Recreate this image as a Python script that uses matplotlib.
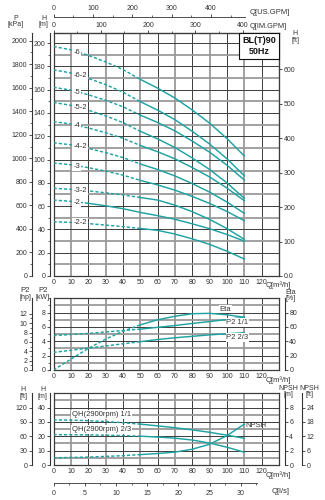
import matplotlib
matplotlib.use("Agg")
import matplotlib.pyplot as plt
import matplotlib.patches as patches
import numpy as np
from matplotlib.ticker import MultipleLocator, FixedLocator, FuncFormatter

W, H = 325, 500
TEAL = "#1fa2a2"
INK = "#333333"
DARK = "#3c3c3c"
LIGHT = "#9a9a9a"

plt.rcParams["font.family"] = ["Liberation Sans", "DejaVu Sans"]
plt.rcParams["font.size"] = 5

# ---- data ----
Q = [0, 10, 20, 30, 40, 50, 60, 70, 80, 90, 100, 110]

stage_names = ["-6", "-6-2", "-5", "-5-2", "-4", "-4-2", "-3", "-3-2", "-2", "-2-2"]
h_6   = [197, 194.2, 189.5, 183.8, 177.3, 168.8, 161.3, 152.8, 142.5, 131.2, 118, 103]
h_6_2 = [177, 174.3, 169.7, 164.3, 157.9, 149.7, 142.4, 134.2, 124.2, 113.3, 100.6, 86]
h_5   = [162, 159.6, 155.6, 150.9, 145.3, 138.1, 131.8, 124.6, 115.8, 106.3, 95.1, 82.4]
h_5_2 = [149, 146.5, 142.4, 137.5, 131.7, 124.3, 117.7, 110.3, 101.3, 91.4, 79.9, 66.7]
h_4   = [132.5, 130.5, 127.1, 123, 118.2, 112.1, 106.7, 100.6, 93.1, 85, 75.5, 64.6]
h_4_2 = [114.4, 112.6, 109.6, 105.9, 101.7, 96.2, 91.4, 85.9, 79.3, 72, 63.5, 53.8]
h_3   = [97, 95.5, 93, 90.1, 86.6, 82.1, 78.2, 73.7, 68.3, 62.3, 55.4, 47.5]
h_3_2 = [75.3, 74.4, 73.1, 71.4, 69.6, 67.4, 65.2, 60.8, 55.2, 48.6, 40.7, 31.5]
h_2   = [65.2, 64.1, 62.4, 60.3, 57.8, 54.6, 51.8, 48.7, 44.8, 40.6, 35.6, 30]
h_2_2 = [46.6, 46, 45, 43.7, 42.4, 40.8, 39.2, 36, 31.9, 27.1, 21.3, 14.6]
stage_heads = [h_6, h_6_2, h_5, h_5_2, h_4, h_4_2, h_3, h_3_2, h_2, h_2_2]

p2_full = [4.8, 4.95, 5.1, 5.3, 5.5, 5.7, 5.95, 6.2, 6.5, 6.75, 7.05, 7.35]
p2_trim = [2.45, 2.75, 3.05, 3.35, 3.65, 3.95, 4.25, 4.5, 4.7, 4.9, 5.05, 5.2]
eta = [0, 15, 30, 43, 54, 63, 70, 75, 78.5, 79, 77, 73.5]

qh_full = [31.5, 31.3, 30.9, 30.3, 29.5, 28.5, 27.3, 26, 24.5, 22.8, 20.8, 18.6]
qh_trim = [21.2, 21.1, 21, 20.8, 20.5, 20.1, 19.5, 18.7, 17.4, 15.3, 12.4, 8.9]
npsh = [1.0, 1.05, 1.1, 1.2, 1.3, 1.45, 1.6, 1.8, 2.2, 2.9, 4.1, 5.7]

# index where the dashed part of each curve stops
DASH_TO = {"-2": 2}
DASH_DEFAULT = 5


def px(l, t, r, b):
    return [l / W, 1 - b / H, (r - l) / W, (b - t) / H]


def ftext(x, y, s, **kw):
    kw.setdefault("color", INK)
    kw.setdefault("va", "center")
    fig.text(x / W, 1 - y / H, s, **kw)


def split_plot(ax, q, h, k, lw=1.05):
    ax.plot(q[:k + 1], h[:k + 1], color=TEAL, lw=lw, ls=(0, (2.2, 1.4)), zorder=3)
    ax.plot(q[k:], h[k:], color=TEAL, lw=lw, zorder=3)


def frame(ax, ylim, hstep, hdark):
    ax.set_xlim(0, 130)
    ax.set_ylim(*ylim)
    for v in range(10, 130, 10):
        dark = v % 20 == 0
        ax.axvline(v, color=DARK if dark else LIGHT, lw=0.7 if dark else 1.3, zorder=1)
    y = hstep
    while y < ylim[1] - 1e-6:
        dark = abs(y / hdark - round(y / hdark)) < 1e-6
        ax.axhline(y, color=DARK if dark else LIGHT, lw=0.7 if dark else 1.3, zorder=1)
        y += hstep
    for s in ax.spines.values():
        s.set_color(DARK)
        s.set_linewidth(0.9)
    ax.set_yticks([])
    ax.set_xticks(range(0, 130, 10))
    ax.tick_params(axis="x", length=0, pad=2.5, labelsize=5, labelcolor=INK)


def sec_style(sec, side="left", length=2.2):
    sec.tick_params(which="major", length=length, width=0.6, pad=1.2,
                    labelsize=5, color=INK, labelcolor=INK)
    sec.tick_params(which="minor", length=1.5, width=0.5, color=INK)
    sec.spines[side].set_color(INK)
    sec.spines[side].set_linewidth(0.8)


fig = plt.figure(figsize=(W / 100, H / 100), dpi=100, facecolor="white")

# ---------------- main Q-H panel ----------------
ax = fig.add_axes(px(53.5, 33, 279, 276))
frame(ax, (0, 208.6), 10, 20)

for name, h in zip(stage_names, stage_heads):
    split_plot(ax, Q, h, DASH_TO.get(name, DASH_DEFAULT))
    ax.text(11.5, np.interp(15, Q, h), name, fontsize=5.5, color=INK, ha="left",
            va="center", zorder=4,
            bbox=dict(boxstyle="square,pad=0.15", fc="white", ec="none"))

h_ax = ax.secondary_yaxis(-0.0155)
h_ax.set_yticks(range(0, 201, 20))
h_ax.yaxis.set_minor_locator(MultipleLocator(10))
sec_style(h_ax)

kpa = ax.secondary_yaxis(-0.0953, functions=(lambda h: h * 9.9, lambda p: p / 9.9))
kpa.set_yticks(range(0, 2001, 200))
kpa.yaxis.set_minor_locator(MultipleLocator(100))
sec_style(kpa)

ft = ax.secondary_yaxis("right", functions=(lambda h: h / 0.2955, lambda f: f * 0.2955))
ft.yaxis.set_major_locator(FixedLocator(range(0, 601, 100)))
ft.yaxis.set_major_formatter(FuncFormatter(lambda v, p: "0.0" if v == 0 else f"{v:.0f}"))
sec_style(ft, "right")

im = ax.secondary_xaxis("top", functions=(lambda q: q / 0.2728, lambda g: g * 0.2728))
im.xaxis.set_major_locator(FixedLocator([0, 100, 200, 300, 400]))
im.xaxis.set_minor_locator(FixedLocator([50, 150, 250, 350]))
im.tick_params(which="major", length=2, width=0.6, pad=1, labelsize=5, color=INK, labelcolor=INK)
im.tick_params(which="minor", length=1.5, width=0.5, color=INK)

us = fig.add_axes(px(53.5, 16.6, 245, 16.8))
us.set_xlim(0, (245 - 53.5) / 225.5 * 130 / 0.2271)
us.set_yticks([])
us.patch.set_alpha(0)
for k in ("left", "right", "bottom"):
    us.spines[k].set_visible(False)
us.spines["top"].set_color(INK)
us.spines["top"].set_linewidth(0.6)
us.xaxis.tick_top()
us.xaxis.set_major_locator(FixedLocator([0, 100, 200, 300, 400]))
us.xaxis.set_minor_locator(FixedLocator([50, 150, 250, 350, 450]))
us.tick_params(which="major", length=2, width=0.6, pad=1, labelsize=5, color=INK, labelcolor=INK)
us.tick_params(which="minor", length=1.5, width=0.5, color=INK)

ftext(250, 12.5, "Q[US.GPM]", fontsize=5.5, ha="left")
ftext(249.5, 26, "Q[IM.GPM]", fontsize=5.3, ha="left")
ftext(15.7, 18.3, "P", ha="center")
ftext(15.7, 24.3, "[kPa]", ha="center")
ftext(43.5, 18.3, "H", ha="center")
ftext(43.5, 24.3, "[m]", ha="center")
ftext(295, 33.5, "H", ha="center")
ftext(295, 40, "[ft]", ha="center")
ftext(266, 285.5, "Q[m³/h]", fontsize=5.5, ha="left")

# model box in the top-right corner
bx0 = (239 - 53.5) / 225.5
by0 = (276 - 59) / 243
ax.add_patch(patches.Rectangle((bx0, by0), 1 - bx0, 1 - by0, transform=ax.transAxes,
                               fc="white", ec="#111111", lw=0.8, zorder=5, clip_on=False))
ax.text((bx0 + 1) / 2, (by0 + 1) / 2, "BL(T)90\n50Hz", transform=ax.transAxes,
        ha="center", va="center", fontsize=6.5, fontweight="bold", color="#111111",
        linespacing=1.35, zorder=6)

# ---------------- P2 / Eta panel ----------------
am = fig.add_axes(px(53.5, 298.3, 279, 370))
frame(am, (0, 10), 1, 2)
split_plot(am, Q, p2_full, DASH_DEFAULT)
split_plot(am, Q, p2_trim, DASH_DEFAULT)

ae = am.twinx()
ae.set_ylim(0, 100)
ae.set_xlim(0, 130)
split_plot(ae, Q, eta, DASH_DEFAULT)
ae.spines["right"].set_position(("outward", 4))
ae.yaxis.set_major_locator(FixedLocator([0, 20, 40, 60, 80]))
for k in ("left", "top", "bottom"):
    ae.spines[k].set_visible(False)
sec_style(ae, "right")

kw_ax = am.secondary_yaxis(-0.0155)
kw_ax.set_yticks([0, 2, 4, 6, 8])
kw_ax.yaxis.set_minor_locator(MultipleLocator(1))
sec_style(kw_ax)
hp_ax = am.secondary_yaxis(-0.0953, functions=(lambda k: k * 1.53, lambda p: p / 1.53))
hp_ax.yaxis.set_major_locator(FixedLocator(range(0, 13, 2)))
hp_ax.yaxis.set_minor_locator(FixedLocator(range(1, 13, 2)))
sec_style(hp_ax)

lab_box = dict(boxstyle="square,pad=0.1", fc="white", ec="none")
ae.text(99, 85, "Eta", fontsize=5.5, color=INK, ha="center", va="center", bbox=lab_box)
am.text(106, 6.6, "P2 1/1", fontsize=5.5, color=INK, ha="center", va="center", bbox=lab_box)
am.text(106, 4.55, "P2 2/3", fontsize=5.5, color=INK, ha="center", va="center", bbox=lab_box)

ftext(25, 290.5, "P2", fontsize=5.5, ha="center")
ftext(25, 297.5, "[hp]", ha="center")
ftext(43, 290.5, "P2", fontsize=5.5, ha="center")
ftext(43, 297.5, "[kW]", ha="center")
ftext(291, 292, "Eta", ha="center")
ftext(291, 298.5, "[%]", ha="center")
ftext(266, 380, "Q[m³/h]", fontsize=5.5, ha="left")

# ---------------- QH / NPSH panel ----------------
ab = fig.add_axes(px(53.5, 393.3, 279, 465))
frame(ab, (0, 50), 5, 10)
split_plot(ab, Q, qh_full, DASH_DEFAULT)
split_plot(ab, Q, qh_trim, DASH_DEFAULT)

an = ab.twinx()
an.set_ylim(0, 10)
an.set_xlim(0, 130)
split_plot(an, Q, npsh, DASH_DEFAULT)
an.spines["right"].set_position(("outward", 4))
an.yaxis.set_major_locator(FixedLocator([0, 2, 4, 6, 8]))
for k in ("left", "top", "bottom"):
    an.spines[k].set_visible(False)
sec_style(an, "right")

nft = an.secondary_yaxis(1.1, functions=(lambda n: n * 3, lambda f: f / 3))
nft.yaxis.set_major_locator(FixedLocator([0, 6, 12, 18, 24]))
sec_style(nft, "right")

hm_ax = ab.secondary_yaxis(-0.0155)
hm_ax.set_yticks([0, 10, 20, 30, 40])
sec_style(hm_ax)
hft_ax = ab.secondary_yaxis(-0.0953, functions=(lambda h: h * 3, lambda f: f / 3))
hft_ax.yaxis.set_major_locator(FixedLocator([0, 30, 60, 90, 120]))
sec_style(hft_ax)

ab.text(10.5, 35.4, "QH(2900rpm) 1/1", fontsize=5.5, color=INK, ha="left", va="center",
        zorder=4, bbox=lab_box)
ab.text(10.5, 24.6, "QH(2900rpm) 2/3", fontsize=5.5, color=INK, ha="left", va="center",
        zorder=4, bbox=lab_box)
ab.text(110.5, 27.5, "NPSH", fontsize=5.5, color=INK, ha="left", va="center")

ftext(23, 389.5, "H", ha="center")
ftext(23, 396, "[ft]", ha="center")
ftext(42.5, 389.5, "H", ha="center")
ftext(42.5, 396, "[m]", ha="center")
ftext(288, 388, "NPSH", ha="center")
ftext(288, 394.5, "[m]", ha="center")
ftext(309, 388, "NPSH", ha="center")
ftext(309, 394.5, "[ft]", ha="center")
ftext(266, 475.5, "Q[m³/h]", fontsize=5.5, ha="left")

ls = fig.add_axes(px(53.5, 483.2, 257, 483.4))
ls.set_xlim(0, (257 - 53.5) / 225.5 * 130 / 3.6)
ls.set_yticks([])
ls.patch.set_alpha(0)
for k in ("left", "right", "top"):
    ls.spines[k].set_visible(False)
ls.spines["bottom"].set_color(INK)
ls.spines["bottom"].set_linewidth(0.6)
ls.xaxis.set_major_locator(FixedLocator([0, 5, 10, 15, 20, 25, 30]))
ls.xaxis.set_minor_locator(FixedLocator([2.5, 7.5, 12.5, 17.5, 22.5, 27.5, 32.5]))
ls.tick_params(which="major", length=2, width=0.6, pad=2.5, labelsize=5, color=INK, labelcolor=INK)
ls.tick_params(which="minor", length=1.5, width=0.5, color=INK)
ftext(272, 491.5, "Q[l/s]", fontsize=5.5, ha="left")

fig.savefig("out.png", dpi=100, facecolor="white")
